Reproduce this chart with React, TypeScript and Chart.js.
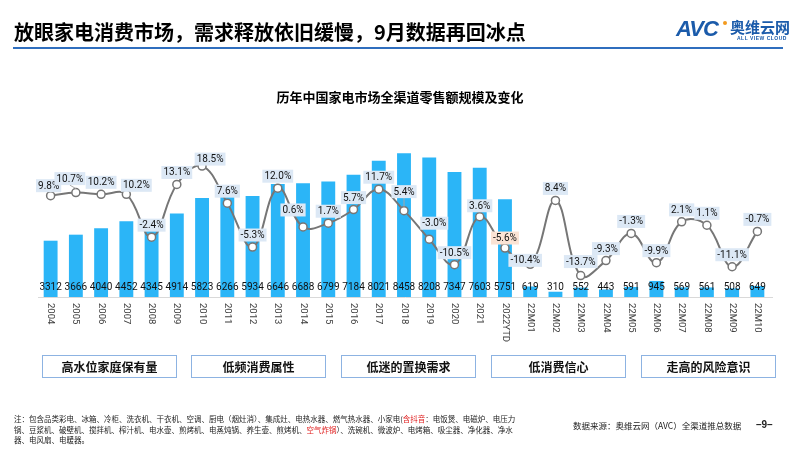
import React, { useEffect, useRef } from "react";
import { Chart, registerables } from "chart.js";
Chart.register(...registerables);

const categories = [
  "2004", "2005", "2006", "2007", "2008", "2009", "2010", "2011", "2012", "2013",
  "2014", "2015", "2016", "2017", "2018", "2019", "2020", "2021", "2022YTD",
  "22M01", "22M02", "22M03", "22M04", "22M05", "22M06", "22M07", "22M08", "22M09", "22M10",
];
const salesValues = [
  3312, 3666, 4040, 4452, 4345, 4914, 5823, 6266, 5934, 6646,
  6688, 6799, 7184, 8021, 8458, 8208, 7347, 7603, 5751,
  619, 310, 552, 443, 591, 945, 569, 561, 508, 649,
];
const growthValues = [
  9.8, 10.7, 10.2, 10.2, -2.4, 13.1, 18.5, 7.6, -5.3, 12.0,
  0.6, 1.7, 5.7, 11.7, 5.4, -3.0, -10.5, 3.6, -5.6,
  -10.4, 8.4, -13.7, -9.3, -1.3, -9.9, 2.1, 1.1, -11.1, -0.7,
];
const highlightedCategories = ["2022YTD"];
const factorBoxes = ["高水位家庭保有量", "低频消费属性", "低迷的置换需求", "低消费信心", "走高的风险意识"];

// label nudges (dx, dy) relative to each line point
const labelNudge: Record<number, [number, number]> = {
  0: [-2, -10], 1: [-6, -14], 3: [10, -9], 6: [8, -7], 10: [-10, -17],
  14: [0, -19], 15: [5, -16], 17: [0, -11], 18: [0, -10], 19: [-5, -4], 21: [0, -14],
};
const leaderLines = [1, 14];

const NUM_FONT = "Roboto, 'Noto Sans', sans-serif";
const CJK = "'Noto Sans CJK SC', 'Noto Sans', sans-serif";

const overlayPlugin = {
  id: "overlay",
  beforeDatasetsDraw(chart: any) {
    const { ctx, chartArea } = chart;
    ctx.save();
    ctx.strokeStyle = "#D9D9D9";
    ctx.lineWidth = 1;
    ctx.beginPath();
    ctx.moveTo(chartArea.left, Math.round(chartArea.bottom) + 0.5);
    ctx.lineTo(chartArea.right + 3, Math.round(chartArea.bottom) + 0.5);
    ctx.stroke();
    ctx.restore();
  },
  afterDatasetsDraw(chart: any) {
    const { ctx, chartArea } = chart;
    const xScale = chart.scales.x;
    ctx.save();
    // bar value labels
    ctx.font = `10px ${NUM_FONT}`;
    ctx.fillStyle = "#111";
    ctx.textAlign = "center";
    ctx.textBaseline = "middle";
    salesValues.forEach((v, i) => {
      const x = xScale.getPixelForValue(i);
      ctx.fillText(String(v), x, chartArea.bottom - 10);
    });
    // x labels rotated clockwise
    ctx.font = `9.5px ${NUM_FONT}`;
    ctx.fillStyle = "#404040";
    ctx.textAlign = "left";
    ctx.textBaseline = "middle";
    categories.forEach((c, i) => {
      const x = xScale.getPixelForValue(i);
      ctx.save();
      ctx.translate(x, chartArea.bottom + 6);
      ctx.rotate(Math.PI / 2);
      ctx.fillText(c, 0, 0);
      ctx.restore();
    });
    // line labels
    const meta = chart.getDatasetMeta(1);
    ctx.font = `10px ${NUM_FONT}`;
    ctx.textAlign = "center";
    ctx.textBaseline = "middle";
    meta.data.forEach((pt: any, i: number) => {
      const [dx, dy] = labelNudge[i] || [0, -12];
      const text = growthValues[i].toFixed(1) + "%";
      const w = ctx.measureText(text).width + 4;
      const h = 13;
      const cx = pt.x + dx;
      const cy = pt.y + dy;
      if (leaderLines.includes(i)) {
        ctx.strokeStyle = "#A6A6A6";
        ctx.lineWidth = 1;
        ctx.beginPath();
        ctx.moveTo(cx, cy + h / 2);
        ctx.lineTo(pt.x, pt.y - 4);
        ctx.stroke();
      }
      ctx.fillStyle = highlightedCategories.includes(categories[i]) ? "#FBE3D4" : "#DCE8F5";
      ctx.fillRect(cx - w / 2, cy - h / 2, w, h);
      ctx.fillStyle = "#111";
      ctx.fillText(text, cx, cy + 0.5);
    });
    ctx.restore();
  },
};

function ChartCanvas() {
  const ref = useRef<HTMLCanvasElement | null>(null);
  useEffect(() => {
    if (!ref.current) return;
    const chart = new Chart(ref.current, {
      type: "bar",
      data: {
        labels: categories,
        datasets: [
          {
            type: "bar",
            data: salesValues,
            backgroundColor: "#2BB5F7",
            barPercentage: 0.55,
            categoryPercentage: 1,
            yAxisID: "y",
            order: 2,
          },
          {
            type: "line",
            data: growthValues,
            borderColor: "#767676",
            borderWidth: 2,
            tension: 0.4,
            pointRadius: 4,
            pointBackgroundColor: "#FFFFFF",
            pointBorderColor: "#767676",
            pointBorderWidth: 1.5,
            yAxisID: "y1",
            order: 1,
          },
        ],
      } as any,
      options: {
        responsive: false,
        animation: false,
        devicePixelRatio: 1,
        layout: { padding: { left: 38, right: 30, top: 127, bottom: 153 } },
        plugins: { legend: { display: false }, tooltip: { enabled: false } },
        scales: {
          x: { display: false, offset: true },
          y: { display: false, min: 0, max: 10000 },
          y1: { display: false, min: -20, max: 30, position: "right" },
        },
      } as any,
      plugins: [overlayPlugin],
    });
    return () => chart.destroy();
  }, []);
  return <canvas ref={ref} width={800} height={450} style={{ position: "absolute", left: 0, top: 0 }} />;
}

export default function App() {
  const boxLefts = [42, 191, 341, 491, 641];
  return (
    <div style={{ position: "fixed", left: 0, top: 0, width: 800, height: 450, background: "#fff", overflow: "hidden", fontFamily: CJK }}>
      <ChartCanvas />
      <div style={{ position: "absolute", left: 14, top: 19, fontSize: 20, fontWeight: "bold", color: "#000", lineHeight: "26px", whiteSpace: "nowrap" }}>
        放眼家电消费市场，需求释放依旧缓慢，9月数据再回冰点
      </div>
      <div style={{ position: "absolute", left: 13, top: 47, width: 770, height: 2, background: "#2F6EBE" }} />
      <div style={{ position: "absolute", left: 676, top: 17, fontFamily: "'Liberation Sans', sans-serif", fontWeight: "bold", fontStyle: "italic", fontSize: 22, color: "#1B5BAA", lineHeight: "24px", letterSpacing: -1 }}>
        AVC
      </div>
      <div style={{ position: "absolute", left: 723, top: 21, width: 4, height: 4, borderRadius: 2, background: "#F39A1E" }} />
      <div style={{ position: "absolute", left: 730, top: 18, fontSize: 15, fontWeight: "bold", color: "#1B5BAA", lineHeight: "18px" }}>
        奥维云网
      </div>
      <div style={{ position: "absolute", left: 737, top: 35, fontSize: 5, fontWeight: "bold", color: "#1B5BAA", lineHeight: "6px", fontFamily: "'Liberation Sans', sans-serif", letterSpacing: 0.5 }}>
        ALL VIEW CLOUD
      </div>
      <div style={{ position: "absolute", left: 0, width: 800, top: 88, textAlign: "center", fontSize: 13, fontWeight: "bold", color: "#000", lineHeight: "18px" }}>
        历年中国家电市场全渠道零售额规模及变化
      </div>
      {factorBoxes.map((t, i) => (
        <div key={t} style={{ position: "absolute", left: boxLefts[i], top: 355, width: 135, height: 23, boxSizing: "border-box", border: "1.5px solid #8DB3E2", display: "flex", alignItems: "center", justifyContent: "center", fontSize: 12, fontWeight: "bold", color: "#111" }}>
          {t}
        </div>
      ))}
      <div style={{ position: "absolute", left: 14, top: 414, fontSize: 7.5, lineHeight: "10.7px", color: "#222", whiteSpace: "nowrap" }}>
        注：包含品类彩电、冰箱、冷柜、洗衣机、干衣机、空调、厨电（烟灶消）、集成灶、电热水器、燃气热水器、小家电(<span style={{ color: "#E02020" }}>含抖音</span>：电饭煲、电磁炉、电压力
        <br />
        锅、豆浆机、破壁机、搅拌机、榨汁机、电水壶、煎烤机、电蒸炖锅、养生壶、煎烤机、<span style={{ color: "#E02020" }}>空气炸锅</span>）、洗碗机、微波炉、电烤箱、吸尘器、净化器、净水
        <br />
        器、电风扇、电暖器。
      </div>
      <div style={{ position: "absolute", left: 573, top: 419, fontSize: 8.5, lineHeight: "12px", color: "#222", whiteSpace: "nowrap" }}>
        数据来源：奥维云网（AVC）全渠道推总数据
      </div>
      <div style={{ position: "absolute", left: 756, top: 418, fontSize: 10, fontWeight: "bold", lineHeight: "13px", color: "#222", fontFamily: "'Liberation Sans', sans-serif" }}>
        –9–
      </div>
    </div>
  );
}
